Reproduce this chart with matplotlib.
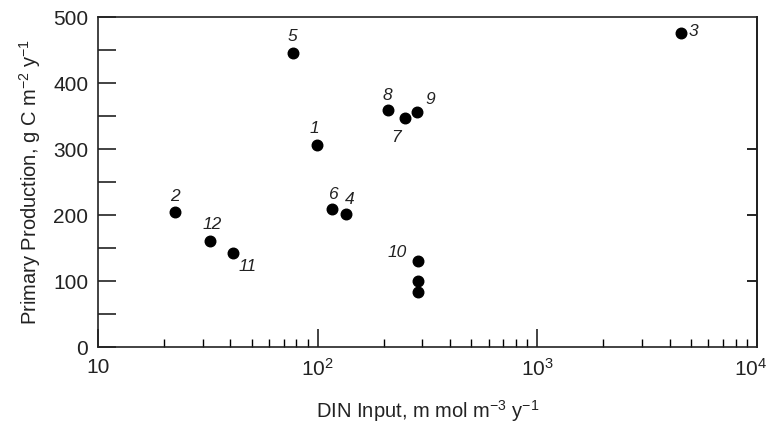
import numpy as np
import matplotlib
matplotlib.use("Agg")
import matplotlib.pyplot as plt
import matplotlib.transforms as mtransforms
from matplotlib.ticker import FixedLocator, NullFormatter, LogLocator

# site data
site_ids = ["1", "2", "3", "4", "5", "6", "7", "8", "9", "10", "10", "10", "11", "12"]
din_input = [99, 22.4, 4500, 134, 77, 116, 251, 208, 283, 285, 285, 285, 41, 32.3]
primary_prod = [306, 205, 476, 201, 445, 209, 347, 359, 356, 130, 100, 83, 142, 161]
show_label = [True] * 10 + [False, False, True, True]

# label offsets in pixels (dx, dy), per point
label_offsets = [(-2, 17), (0, 15), (13, 1), (4, 15), (0, 17), (1, 15), (-9, -19),
                 (0, 15), (13, 13), (-20, 9), (0, 0), (0, 0), (15, -13), (2, 16)]

plt.rcParams['font.family'] = ['Liberation Sans', 'DejaVu Sans']
plt.rcParams['mathtext.fontset'] = 'custom'
plt.rcParams['mathtext.rm'] = 'Liberation Sans'
plt.rcParams['mathtext.it'] = 'Liberation Sans:italic'

fig = plt.figure(figsize=(7.73, 4.26), dpi=100)
ax = fig.add_axes([0.1268, 0.1854, 0.8525, 0.7746])

ax.plot(din_input, primary_prod, 'o', color='black', markersize=7.6, zorder=3)

for ii in range(len(site_ids)):
    if not show_label[ii]:
        continue
    dx, dy = label_offsets[ii]
    ax.annotate(site_ids[ii], (din_input[ii], primary_prod[ii]),
                xytext=(dx, dy), textcoords='offset pixels',
                ha='center', va='center', style='italic', fontsize=12.5, color='#222222')

ax.set_xscale('log')
ax.set_xlim(10, 1e4)
ax.set_ylim(0, 500)

ax.set_xticks([10, 100, 1000, 10000])
ax.set_xticklabels(['10', r'10$^2$', r'10$^3$', r'10$^4$'])
ax.xaxis.set_minor_locator(LogLocator(base=10, subs=np.arange(2, 10)))
ax.xaxis.set_minor_formatter(NullFormatter())
ax.set_yticks([0, 100, 200, 300, 400, 500])
ax.yaxis.set_minor_locator(FixedLocator([50, 150, 250, 350, 450]))

ax.tick_params(axis='x', which='major', direction='in', length=13, width=1.2,
               top=False, labelsize=15, pad=8, colors='#222222')
ax.tick_params(axis='x', which='minor', direction='in', length=6, width=1, top=False)
ax.tick_params(axis='y', which='both', direction='in', length=13, width=1.2,
               right=False, labelsize=15, pad=7, colors='#222222')

# keep the 10^4 label inside the canvas
last = ax.get_xticklabels()[-1]
last.set_transform(last.get_transform() +
                   mtransforms.ScaledTranslation(-6 / 100, 0, fig.dpi_scale_trans))

# a few short ticks on the right spine
ax_r = ax.secondary_yaxis('right')
ax_r.set_yticks([100, 200, 300])
ax_r.tick_params(direction='in', length=7, width=1.2, labelright=False)
ax_r.yaxis.set_minor_locator(FixedLocator([]))

for s in ax.spines.values():
    s.set_linewidth(1.2)
    s.set_color('#222222')
ax_r.spines['right'].set_linewidth(1.2)

ax.set_xlabel(r'DIN Input, m mol m$^{-3}$ y$^{-1}$', fontsize=14.5, labelpad=13, color='#222222')
ax.set_ylabel(r'Primary Production, g C m$^{-2}$ y$^{-1}$', fontsize=14.5, labelpad=7, color='#222222')

fig.savefig('out.png', dpi=100)
